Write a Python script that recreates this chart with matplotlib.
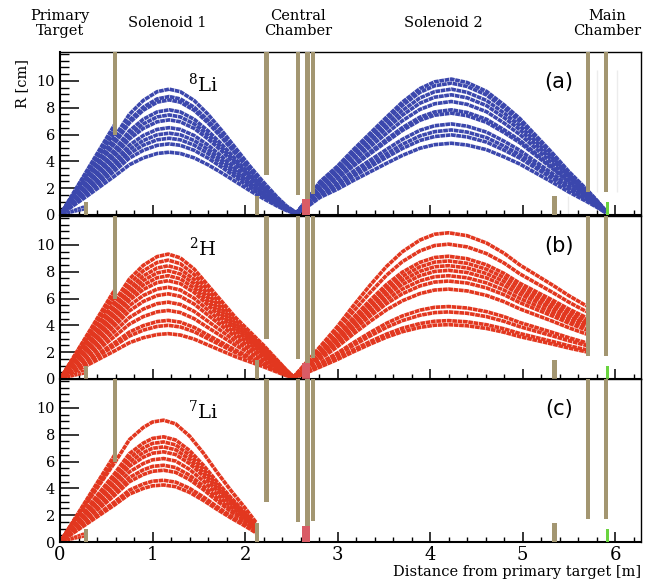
import numpy as np
import matplotlib.pyplot as plt

plt.rcParams['font.family'] = 'DejaVu Serif'
plt.rcParams['mathtext.fontset'] = 'dejavuserif'

# ---- beam line elements (z in m, R in cm)
stop_z = [0.285, 2.13, 5.345]          # short blockers standing on the axis
stop_h = [1.0, 1.38, 1.38]
mask_z = [0.59, 2.232, 2.574, 2.675, 2.736, 5.705, 5.904]   # apertures hanging from the top
mask_r = [6.0, 3.0, 1.5, 1.2, 1.55, 1.75, 1.75]
cc_z = [2.617, 2.70]     # central chamber target
cc_h = 1.2
mc_z = [5.902, 5.935]    # main chamber target
mc_h = 1.0

# ---- 8Li  (panel a)
li8_z1 = [0, 0.3, 0.59, 0.75, 0.9, 1.05, 1.18, 1.3, 1.45, 1.6, 1.75, 1.9, 2.05, 2.2, 2.35, 2.45, 2.55]
li8_f1 = [0, 0.31, 0.62, 0.80, 0.91, 0.98, 1.0, 0.98, 0.91, 0.80, 0.67, 0.53, 0.39, 0.26, 0.14, 0.07, 0.02]
li8_pk1 = [9.38, 8.83, 8.58, 7.84, 7.46, 7.09, 6.51, 6.1, 5.72, 5.3, 4.68]
li8_z2 = [2.55, 2.7, 2.81, 3.0, 3.17, 3.35, 3.53, 3.7, 3.89, 4.05, 4.23, 4.4, 4.61, 4.8, 4.97, 5.15, 5.33, 5.5, 5.69, 5.8, 5.9]
li8_f2 = [0.01, 0.14, 0.245, 0.36, 0.48, 0.6, 0.72, 0.83, 0.93, 0.98, 1.0, 0.975, 0.91, 0.81, 0.71, 0.58, 0.45, 0.32, 0.19, 0.11, 0.03]
li8_pk2 = [10.13, 9.83, 9.38, 8.96, 8.46, 7.84, 7.59, 6.79, 6.34, 5.97, 5.35]
li8_cut = [6.15, 6.35, 6.55, 6.75]     # tracks stopped on the first aperture

# ---- 2H  (panel b)
h2_z1 = [0, 0.3, 0.59, 0.75, 0.9, 1.05, 1.17, 1.3, 1.45, 1.6, 1.75, 1.9, 2.05, 2.2, 2.35, 2.45, 2.52]
h2_f1 = [0, 0.31, 0.62, 0.80, 0.91, 0.98, 1.0, 0.97, 0.88, 0.75, 0.62, 0.49, 0.38, 0.27, 0.15, 0.07, 0.02]
h2_pk1 = [9.31, 8.86, 8.44, 8.07, 7.7, 7.33, 6.84, 6.35, 5.73, 5.11, 4.37, 4.0, 3.38]
h2_z2 = [2.52, 2.7, 2.81, 3.0, 3.17, 3.35, 3.53, 3.7, 3.89, 4.05, 4.2, 4.4, 4.61, 4.8, 4.97, 5.15, 5.33, 5.5, 5.69]
h2_f2 = [0.01, 0.14, 0.22, 0.36, 0.5, 0.64, 0.77, 0.87, 0.95, 0.99, 1.0, 0.98, 0.93, 0.86, 0.78, 0.71, 0.64, 0.57, 0.50]
h2_pk2 = [10.9, 10.05, 9.15, 8.8, 8.45, 8.1, 7.7, 7.3, 6.7, 5.4, 5.0, 4.35, 4.05]
h2_cut = [6.1, 6.3, 6.5, 6.65]

# ---- 7Li  (panel c)
li7_z1 = [0, 0.3, 0.59, 0.75, 0.9, 1.0, 1.12, 1.25, 1.4, 1.55, 1.7, 1.85, 2.0, 2.12]
li7_f1 = [0, 0.33, 0.65, 0.84, 0.94, 0.985, 1.0, 0.97, 0.87, 0.73, 0.57, 0.42, 0.28, 0.16]
li7_pk1 = [9.08, 7.84, 7.46, 7.09, 6.72, 6.22, 5.72, 5.35, 4.6, 4.25]
li7_cut = [6.1, 6.3, 6.5]

low_cut = [0.45, 0.7]    # tracks stopped on the blocker at 0.285 m

blue = '#3b47ad'
red = '#e2371f'
tan = '#a39671'

fig = plt.figure(figsize=(6.52, 5.85), dpi=100)
L, W, H = 60 / 652, 581 / 652, 163 / 585
ax_a = fig.add_axes([L, 1 - 215 / 585, W, H])
ax_b = fig.add_axes([L, 1 - 379 / 585, W, H], sharex=ax_a)
ax_c = fig.add_axes([L, 1 - 542 / 585, W, H], sharex=ax_a)

dash = (1.3, 0.18)


def tracks(ax, z, f, peaks, col):
    z = np.asarray(z)
    f = np.asarray(f)
    for p in peaks:
        ax.plot(z, p * f, color=col, lw=2.6, dashes=dash, zorder=2)


def cut_tracks(ax, ends, col):
    for r in ends:
        ax.plot([0, mask_z[0]], [0, r], color=col, lw=2.4, dashes=dash, zorder=2)
    for r in low_cut:
        ax.plot([0, stop_z[0]], [0, r], color=col, lw=1.8, dashes=dash, zorder=2)


def beamline(ax, top):
    ax.bar(stop_z, stop_h, width=0.045, color=tan, zorder=3)
    ax.bar(mask_z, [top - r for r in mask_r], bottom=mask_r, width=0.045, color=tan, zorder=3)
    ax.bar(cc_z[0], cc_h, width=cc_z[1] - cc_z[0], align='edge', color='#d95c66', zorder=4)
    ax.bar(mc_z[0], mc_h, width=mc_z[1] - mc_z[0], align='edge', color='#6ad43f', zorder=4)


ytop = 12.15
for ax in (ax_a, ax_b, ax_c):
    ax.set_xlim(0, 6.28)
    ax.set_ylim(0, ytop)
    beamline(ax, ytop)
    ax.set_yticks(np.arange(0, 11, 2))
    ax.set_yticks(np.arange(0, 12.1, 0.5), minor=True)
    ax.set_xticks(np.arange(0, 7, 1))
    ax.set_xticks(np.arange(0, 6.3, 0.2), minor=True)
    ax.tick_params(axis='y', which='major', direction='in', length=13.5, width=1.1,
                   labelsize=10.5, pad=3.5)
    ax.tick_params(axis='y', which='minor', direction='in', length=6.5, width=1.0)
    ax.tick_params(axis='x', which='major', direction='in', length=7.5, width=1.1,
                   labelsize=13, pad=3)
    ax.tick_params(axis='x', which='minor', direction='in', length=3.5, width=1.0)
    for s in ('left', 'bottom'):
        ax.spines[s].set_linewidth(1.5)
    for s in ('top', 'right'):
        ax.spines[s].set_linewidth(1.0)

for ax in (ax_a, ax_b):
    ax.tick_params(axis='x', labelbottom=False)

# faint outlines around the main chamber
ax_a.vlines([5.8, 6.02], 1.7, 10.8, color='#ececec', lw=1, zorder=1)
ax_a.vlines([5.49], 0, 1.4, color='#ececec', lw=1, zorder=1)

tracks(ax_a, li8_z1, li8_f1, li8_pk1, blue)
tracks(ax_a, li8_z2, li8_f2, li8_pk2, blue)
cut_tracks(ax_a, li8_cut, blue)

tracks(ax_b, h2_z1, h2_f1, h2_pk1, red)
tracks(ax_b, h2_z2, h2_f2, h2_pk2, red)
cut_tracks(ax_b, h2_cut, red)

tracks(ax_c, li7_z1, li7_f1, li7_pk1, red)
cut_tracks(ax_c, li7_cut, red)

for ax, iso, tag in ((ax_a, r'$^{8}\mathrm{Li}$', '(a)'),
                     (ax_b, r'$^{2}\mathrm{H}$', '(b)'),
                     (ax_c, r'$^{7}\mathrm{Li}$', '(c)')):
    ax.text(1.545, 9.75, iso, ha='center', va='center', fontsize=14, zorder=5)
    ax.text(5.39, 9.95, tag, ha='center', va='center', fontsize=15,
            family='DejaVu Sans', zorder=5)

# section names above the top panel
sections = [(0.0, 'Primary\nTarget'), (1.155, 'Solenoid 1'), (2.57, 'Central\nChamber'),
            (4.14, 'Solenoid 2'), (5.91, 'Main\nChamber')]
for xs, name in sections:
    ax_a.text(xs, 1.175, name, ha='center', va='center', fontsize=10.5,
              linespacing=1.15, transform=ax_a.get_xaxis_transform())

fig.text(22 / 652, 1 - 84 / 585, 'R [cm]', rotation=90, ha='center', va='center', fontsize=10.5)
fig.text(641 / 652, 1 - 572 / 585, 'Distance from primary target [m]', ha='right',
         va='center', fontsize=10.5)

fig.savefig('out.png', dpi=100)
